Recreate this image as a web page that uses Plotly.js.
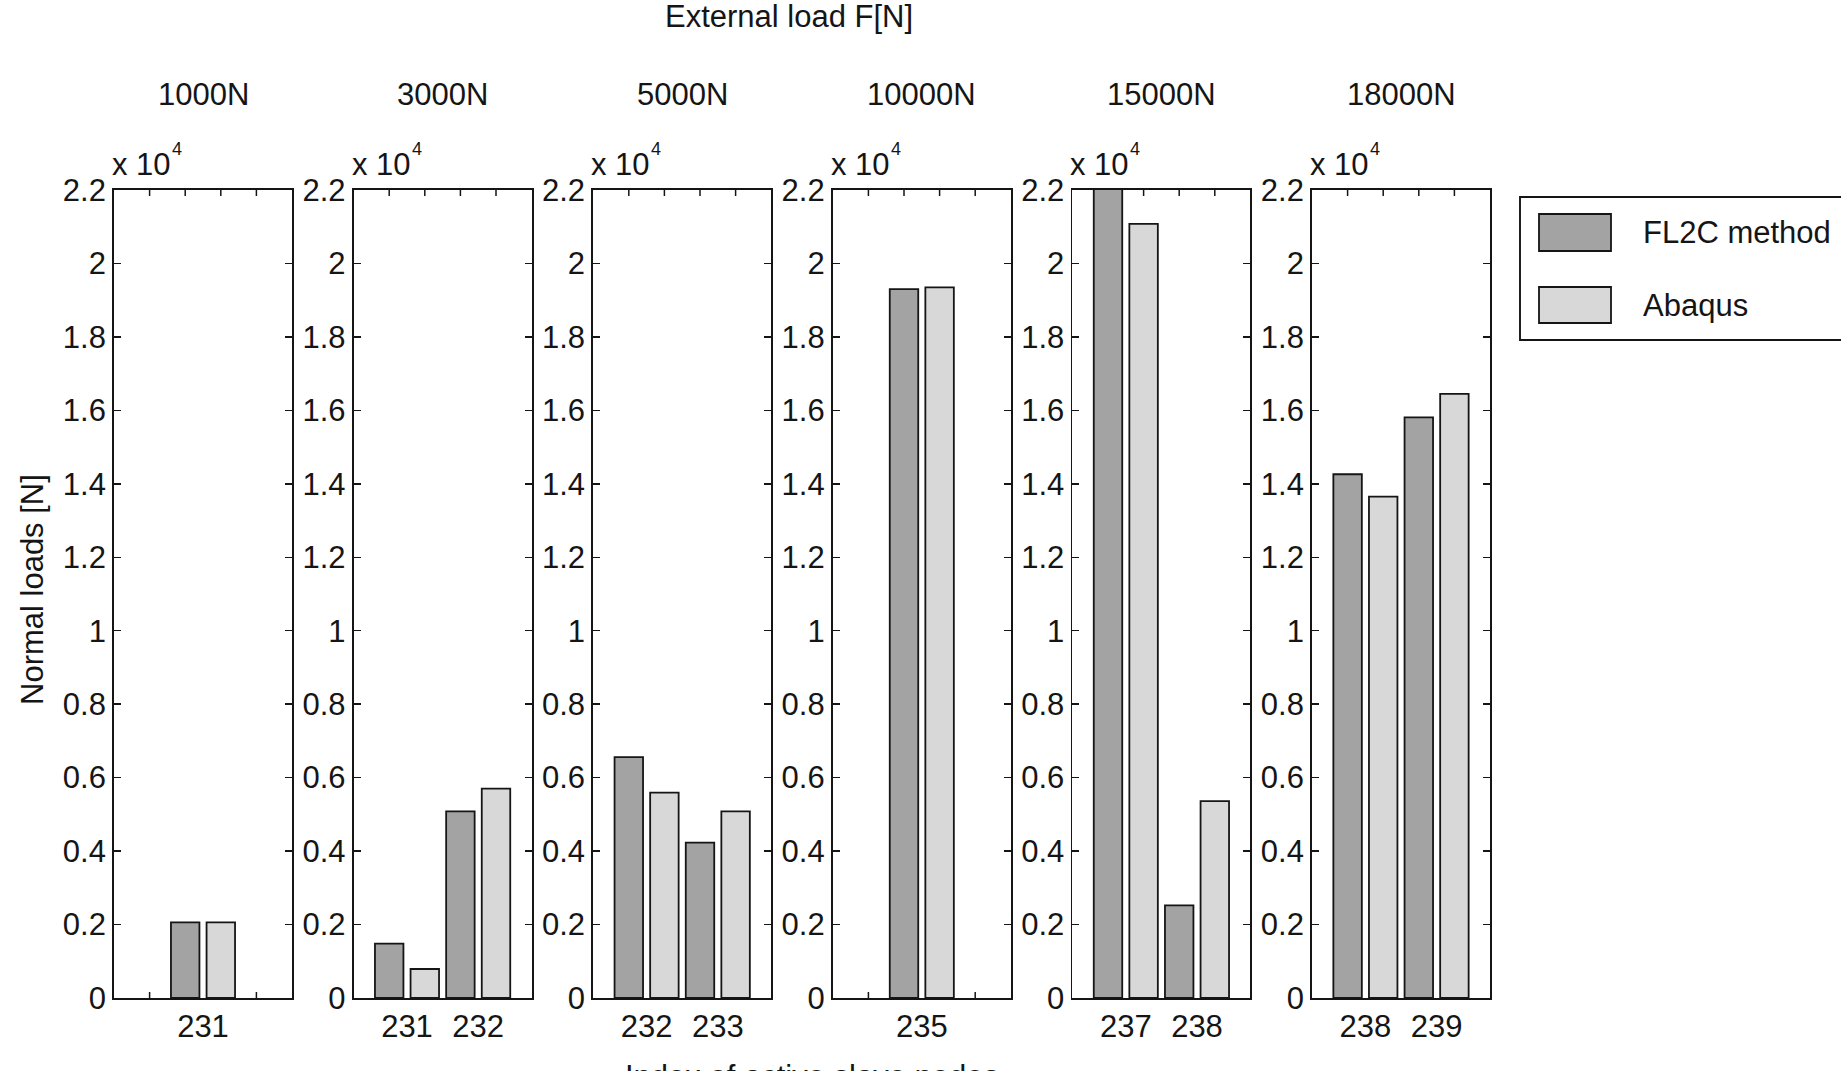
<!DOCTYPE html>
<html>
<head>
<meta charset="utf-8">
<script src="https://cdn.plot.ly/plotly-3.0.1.min.js"></script>
<style>
  html, body { margin: 0; padding: 0; background: #ffffff; }
  #chart { width: 1841px; height: 1071px; }
</style>
</head>
<body>
<div id="chart"></div>
<script>
// External load cases (one panel each)
const loadCases = ['1000N', '3000N', '5000N', '10000N', '15000N', '18000N'];

// Active slave node indices per load case
const nodes1000  = [231];
const nodes3000  = [231, 232];
const nodes5000  = [232, 233];
const nodes10000 = [235];
const nodes15000 = [237, 238];
const nodes18000 = [238, 239];

// Normal loads [N], FL2C method
const fl2c1000  = [2060];
const fl2c3000  = [1480, 5080];
const fl2c5000  = [6560, 4230];
const fl2c10000 = [19300];
const fl2c15000 = [22600, 2520];
const fl2c18000 = [14260, 15810];

// Normal loads [N], Abaqus
const abaqus1000  = [2060];
const abaqus3000  = [790, 5700];
const abaqus5000  = [5590, 5080];
const abaqus10000 = [19350];
const abaqus15000 = [21080, 5360];
const abaqus18000 = [13650, 16450];

// Y axis ticks (values shown in units of 10^4 N)
const yTickVals = [0, 2000, 4000, 6000, 8000, 10000, 12000, 14000, 16000, 18000, 20000, 22000];
const yTickText = ['0', '0.2', '0.4', '0.6', '0.8', '1', '1.2', '1.4', '1.6', '1.8', '2', '2.2'];

const seriesNames = ['FL2C method', 'Abaqus'];

const panels = [
  { nodes: nodes1000,  fl2c: fl2c1000,  abaqus: abaqus1000 },
  { nodes: nodes3000,  fl2c: fl2c3000,  abaqus: abaqus3000 },
  { nodes: nodes5000,  fl2c: fl2c5000,  abaqus: abaqus5000 },
  { nodes: nodes10000, fl2c: fl2c10000, abaqus: abaqus10000 },
  { nodes: nodes15000, fl2c: fl2c15000, abaqus: abaqus15000 },
  { nodes: nodes18000, fl2c: fl2c18000, abaqus: abaqus18000 }
];

// ---- styling / geometry ----
const W = 1841, H = 1071;
const FONT = 'Liberation Sans, Arial, Helvetica, sans-serif';
const FS = 31;
const TXT = '#151515';
const DARK = '#a3a3a3';
const LIGHT = '#d8d8d8';
const EDGE = '#151515';
const AXW = 1.9;

const panelLeft0 = 114, panelStep = 239.6, panelWidth = 178;
const plotTop = 190, plotBottom = 998;
const yDom = [(H - plotBottom) / H, (H - plotTop) / H];
const barW = 0.4, barGap = 0.1;
const halfSpan = 1.25;

const traces = [];
const layout = {
  width: W, height: H,
  margin: { l: 0, r: 0, t: 0, b: 0, pad: 0 },
  paper_bgcolor: '#ffffff', plot_bgcolor: '#ffffff',
  font: { family: FONT, size: FS, color: TXT },
  barmode: 'overlay',
  showlegend: false,
  shapes: [], annotations: []
};

panels.forEach((p, i) => {
  const sfx = i === 0 ? '' : String(i + 1);
  const xa = 'x' + sfx, ya = 'y' + sfx;
  const left = panelLeft0 + panelStep * i;
  const xDom = [left / W, (left + panelWidth) / W];
  const center = (p.nodes[0] + p.nodes[p.nodes.length - 1]) / 2;

  traces.push({
    type: 'bar', name: seriesNames[0], x: p.nodes, y: p.fl2c,
    xaxis: xa, yaxis: ya, width: barW, offset: -barW - barGap / 2,
    marker: { color: DARK, line: { color: EDGE, width: 1.8 } },
    hoverinfo: 'skip'
  });
  traces.push({
    type: 'bar', name: seriesNames[1], x: p.nodes, y: p.abaqus,
    xaxis: xa, yaxis: ya, width: barW, offset: barGap / 2,
    marker: { color: LIGHT, line: { color: EDGE, width: 1.8 } },
    hoverinfo: 'skip'
  });

  layout['xaxis' + sfx] = {
    domain: xDom, anchor: ya,
    range: [center - halfSpan, center + halfSpan],
    tickmode: 'array', tickvals: p.nodes, ticktext: p.nodes.map(String),
    ticks: '', showgrid: false, zeroline: false,
    showline: true, mirror: true, linecolor: EDGE, linewidth: AXW,
    tickfont: { family: FONT, size: FS, color: TXT },
    fixedrange: true
  };
  layout['yaxis' + sfx] = {
    domain: yDom, anchor: xa,
    range: [0, 22000],
    tickmode: 'array', tickvals: yTickVals, ticktext: yTickText,
    ticks: 'inside', ticklen: 7, tickwidth: 1.5, tickcolor: EDGE,
    showgrid: false, zeroline: false,
    showline: true, mirror: 'ticks', linecolor: EDGE, linewidth: AXW,
    tickfont: { family: FONT, size: FS, color: TXT },
    fixedrange: true
  };

  // secondary minor ticks along top and bottom edges (hidden behind bars)
  const tl = 6 / (plotBottom - plotTop);
  [0.2, 0.4, 0.6, 0.8].forEach(f => {
    layout.shapes.push({
      type: 'line', layer: 'below', xref: xa + ' domain', yref: ya + ' domain',
      x0: f, x1: f, y0: 0, y1: tl, line: { color: EDGE, width: 1.5 }
    });
    layout.shapes.push({
      type: 'line', layer: 'below', xref: xa + ' domain', yref: ya + ' domain',
      x0: f, x1: f, y0: 1 - tl, y1: 1, line: { color: EDGE, width: 1.5 }
    });
  });

  // load case title
  layout.annotations.push({
    xref: 'paper', yref: 'paper', x: (left + panelWidth / 2) / W, y: 1 - 94 / H,
    xanchor: 'center', yanchor: 'middle', showarrow: false,
    text: loadCases[i], font: { family: FONT, size: FS, color: TXT }
  });
  // exponent label: "x 10" with a raised "4"
  layout.annotations.push({
    xref: 'paper', yref: 'paper', x: (left - 4) / W, y: 1 - 164 / H,
    xanchor: 'left', yanchor: 'middle', showarrow: false,
    text: 'x 10', font: { family: FONT, size: FS, color: TXT }
  });
  layout.annotations.push({
    xref: 'paper', yref: 'paper', x: (left + 63) / W, y: 1 - 149 / H,
    xanchor: 'center', yanchor: 'middle', showarrow: false,
    text: '4', font: { family: FONT, size: 18, color: TXT }
  });
});

// overall titles
layout.annotations.push({
  xref: 'paper', yref: 'paper', x: 789 / W, y: 1 - 17 / H,
  xanchor: 'center', yanchor: 'middle', showarrow: false,
  text: 'External load F[N]', font: { family: FONT, size: FS, color: TXT }
});
layout.annotations.push({
  xref: 'paper', yref: 'paper', x: 32 / W, y: 1 - 590 / H,
  xanchor: 'center', yanchor: 'middle', showarrow: false, textangle: -90,
  text: 'Normal loads [N]', font: { family: FONT, size: FS, color: TXT }
});
layout.annotations.push({
  xref: 'paper', yref: 'paper', x: 812 / W, y: 1 - 1076 / H,
  xanchor: 'center', yanchor: 'middle', showarrow: false,
  text: 'Index of active slave nodes', font: { family: FONT, size: FS, color: TXT }
});

// legend box
layout.shapes.push({
  type: 'rect', xref: 'paper', yref: 'paper',
  x0: 1520 / W, x1: 1870 / W, y0: 1 - 340 / H, y1: 1 - 197 / H,
  line: { color: EDGE, width: AXW }, fillcolor: 'rgba(255,255,255,0)'
});
const legendRows = [
  { name: seriesNames[0], color: DARK, top: 214, bottom: 251 },
  { name: seriesNames[1], color: LIGHT, top: 287, bottom: 323 }
];
legendRows.forEach(r => {
  layout.shapes.push({
    type: 'rect', xref: 'paper', yref: 'paper',
    x0: 1539 / W, x1: 1611 / W, y0: 1 - r.bottom / H, y1: 1 - r.top / H,
    line: { color: EDGE, width: 1.8 }, fillcolor: r.color
  });
  layout.annotations.push({
    xref: 'paper', yref: 'paper', x: 1641 / W, y: 1 - (r.top + r.bottom) / 2 / H,
    xanchor: 'left', yanchor: 'middle', showarrow: false,
    text: r.name, font: { family: FONT, size: FS, color: TXT }
  });
});

Plotly.newPlot('chart', traces, layout, { displayModeBar: false, staticPlot: true });
</script>
</body>
</html>
